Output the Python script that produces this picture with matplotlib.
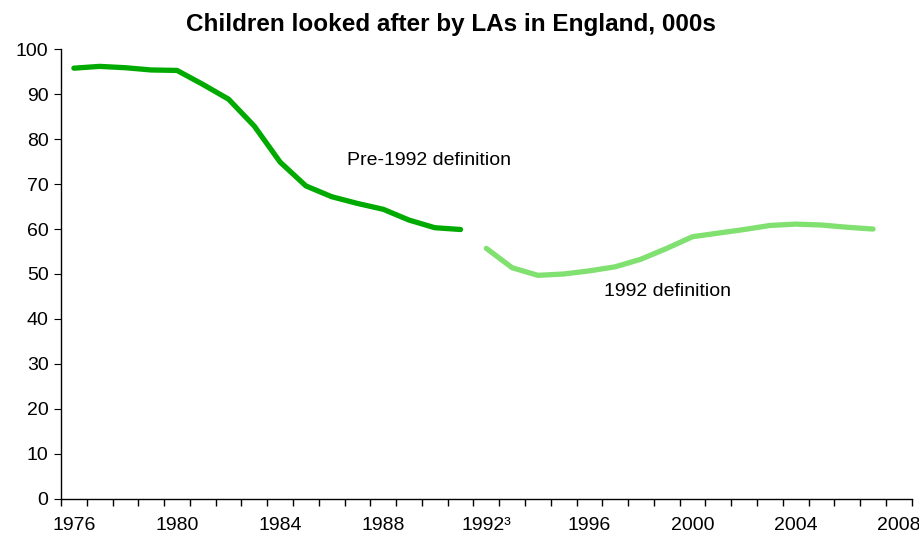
import matplotlib
matplotlib.use("Agg")
import matplotlib.pyplot as plt
import numpy as np

plt.rcParams['font.family'] = ['Liberation Sans', 'DejaVu Sans']

years_pre = list(range(1976, 1992))
values_pre = [95.8, 96.2, 95.9, 95.4, 95.3, 92.2, 88.9, 82.9, 74.9, 69.6,
              67.2, 65.7, 64.4, 62.0, 60.3, 59.9]
years_new = list(range(1992, 2008))
values_new = [55.7, 51.4, 49.7, 50.0, 50.7, 51.6, 53.3, 55.7, 58.3, 59.1,
              59.9, 60.8, 61.1, 60.9, 60.4, 60.0]
tick_years = [1976, 1980, 1984, 1988, 1992, 1996, 2000, 2004, 2008]
tick_labels = ['1976', '1980', '1984', '1988', '1992³', '1996', '2000', '2004', '2008']
y_ticks = list(range(0, 101, 10))

FS = 14

fig = plt.figure(figsize=(9.2, 5.33), dpi=100)
ax = fig.add_axes([61/920, 1-498.7/533, (911.7-61)/920, (498.7-49.3)/533])

ax.plot(years_pre, values_pre, color='#00AA00', lw=3.8, solid_capstyle='round', solid_joinstyle='round')
ax.plot(years_new, values_new, color='#80E070', lw=3.8, solid_capstyle='round', solid_joinstyle='round')

ax.set_xlim(1975.5, 2008.5)
ax.set_ylim(0, 100)
ax.set_xticks(tick_years)
ax.set_xticklabels(tick_labels, fontsize=FS)
ax.set_xticks(np.arange(1975.5, 2009.0, 1.0), minor=True)
ax.tick_params(axis='x', which='major', length=0, pad=13)
ax.tick_params(axis='x', which='minor', length=5, direction='out', width=1)
ax.set_yticks(y_ticks)
ax.tick_params(axis='y', which='major', length=5, direction='out', labelsize=FS, pad=4)

for s in ['top', 'right']:
    ax.spines[s].set_visible(False)
for s in ['left', 'bottom']:
    ax.spines[s].set_linewidth(1)
    ax.spines[s].set_color('black')

ax.text(1986.6, 75.2, 'Pre-1992 definition', fontsize=FS, ha='left', va='center')
ax.text(1996.56, 46.2, '1992 definition', fontsize=FS, ha='left', va='center')

fig.text(0.49, 1-24/533, 'Children looked after by LAs in England, 000s',
         fontsize=17.5, fontweight='bold', ha='center', va='center')

fig.savefig('out.png', dpi=100)
